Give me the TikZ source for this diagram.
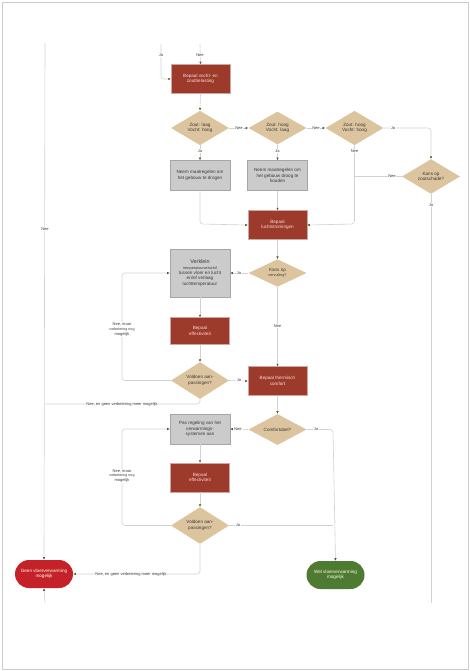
\documentclass[tikz,border=0pt]{standalone}
\usepackage{fontspec}
\setmainfont{Liberation Sans}
\usetikzlibrary{shapes.geometric,arrows.meta}
\definecolor{boxred}{HTML}{9C3A2C}
\definecolor{grayfill}{HTML}{CBCBCB}
\definecolor{tanc}{HTML}{DCC59E}
\definecolor{termred}{HTML}{C42129}
\definecolor{termgreen}{HTML}{4E7A32}
\definecolor{linec}{HTML}{D2D2D2}
\definecolor{arrc}{HTML}{4B5A2A}
\definecolor{txt}{HTML}{3A3A3A}
\begin{document}
\begin{tikzpicture}[x=1pt,y=-1pt,
  font=\fontsize{4.6}{5.4}\selectfont,
  redbox/.style={rectangle, fill=boxred, draw=white!55!boxred, line width=0.3pt, text=white!85!red, minimum width=59pt, minimum height=29pt, inner sep=1pt, align=center},
  graybox/.style={rectangle, fill=grayfill, draw=gray!70, line width=0.4pt, text=txt, minimum width=60pt, minimum height=30pt, inner sep=1pt, align=center},
  dia/.style={diamond, fill=tanc, draw=none, text=txt, minimum width=58pt, minimum height=27pt, inner sep=0pt, align=center},
  term/.style={rectangle, rounded corners=14pt, minimum width=58pt, minimum height=28pt, inner sep=1pt, align=center, text=white!90!yellow},
  conn/.style={draw=linec, line width=0.6pt, rounded corners=3pt},
  arr/.style={conn, -{Latex[length=2.6pt,width=2.4pt,color=arrc]}},
  lbl/.style={fill=white, inner sep=0.6pt, text=txt, font=\fontsize{4}{4.8}\selectfont, align=center}
]
\useasboundingbox (0,0) rectangle (470,671);
\fill[white] (0,0) rectangle (470,671);
\draw[gray!40, line width=0.8pt] (2,2) rectangle (468,669);

% nodes
\node[redbox] (b1) at (200.5,79) {Bepaal vocht- en\\zoutbelasting};
\node[dia] (d1) at (200,128) {Zout: laag\\Vocht: hoog};
\node[dia] (d2) at (277.5,128) {Zout: hoog\\Vocht: laag};
\node[dia] (d3) at (354.5,128) {Zout: hoog\\Vocht: hoog};
\node[dia] (d4) at (431,176.5) {Kans op\\zoutschade?};
\node[graybox] (g1) at (200,175.5) {Neem maatregelen om\\het gebouw te drogen};
\node[graybox] (g2) at (277.5,175.5) {Neem maatregelen om\\het gebouw droog te\\houden};
\node[redbox] (b2) at (277.5,225) {Bepaal\\luchtstromingen};
\node[dia] (d5) at (277.5,273) {Kans op\\{\fontsize{3.8}{4.6}\selectfont vervuiling?}};
\node[graybox, minimum height=48pt] (g3) at (200,273) {{\fontsize{5.4}{6}\selectfont Verklein}\\{\fontsize{3.8}{4.6}\selectfont temperatuurverschil}\\tussen vloer en lucht\\en/of verlaag\\luchttemperatuur};
\node[redbox, minimum height=27pt] (b3) at (200,331) {Bepaal\\effectiviteit};
\node[dia] (d6) at (200,380.5) {Voldoen aan-\\passingen?};
\node[redbox] (b4) at (277.5,381) {Bepaal thermisch\\comfort};
\node[dia, minimum height=29pt] (d7) at (277.5,429.5) {Comfortabel?};
\node[graybox] (g4) at (200,429) {Pas regeling van het\\verwarmings-\\systemen aan};
\node[redbox] (b5) at (200,477.5) {Bepaal\\effectiviteit};
\node[dia, minimum height=29pt] (d8) at (200,525.5) {Voldoen aan-\\passingen?};
\node[term, fill=termred] (t1) at (44,574) {Geen vloerverwarming\\mogelijk};
\node[term, fill=termgreen] (t2) at (335.5,575) {Wel vloerverwarming\\mogelijk};

% free ends
\coordinate (topJa) at (161,44);
\coordinate (topNee) at (200,44);
\coordinate (leftTop) at (45,43);
\coordinate (leftBot) at (45,603);
\coordinate (rightBot) at (431,603);

% connectors
\draw[arr] (topJa) -- (161,79) -- (b1.west);
\draw[arr] (topNee) -- (b1.north);
\draw[arr] (b1.south) -- (d1.north);
\draw[arr] (d1.east) -- (d2.west);
\draw[arr] (d2.east) -- (d3.west);
\draw[arr] (d3.east) -- (431,128) -- (d4.north);
\draw[arr] (d1.south) -- (g1.north);
\draw[arr] (d2.south) -- (g2.north);
\draw[arr] (d3.south) -- (354.5,224) -- (b2.east);
\draw[conn] (d4.west) -- (354.5,176.5);
\draw[conn] (d4.south) -- (rightBot);
\draw[arr] (g1.south) -- (200,224) -- (b2.west);
\draw[arr] (g2.south) -- (b2.north);
\draw[arr] (b2.south) -- (d5.north);
\draw[arr] (d5.west) -- (g3.east);
\draw[arr] (d5.south) -- (b4.north);
\draw[arr] (g3.south) -- (b3.north);
\draw[arr] (b3.south) -- (d6.north);
\draw[arr] (d6.east) -- (b4.west);
\draw[arr] (d6.west) -- (122,380.5) -- (122,273) -- (g3.west);
\draw[conn] (d6.south) -- (200,404) -- (45,404);
\draw[arr] (leftTop) -- (t1.north);
\draw[arr] (leftBot) -- (t1.south);
\draw[arr] (b4.south) -- (d7.north);
\draw[arr] (d7.west) -- (g4.east);
\draw[arr] (d7.east) -- (333,429.5) -- (t2.north);
\draw[arr] (g4.south) -- (b5.north);
\draw[arr] (b5.south) -- (d8.north);
\draw[conn] (d8.east) -- (333,525.5);
\draw[arr] (d8.west) -- (122,525.5) -- (122,429) -- (g4.west);
\draw[arr] (d8.south) -- (200,574) -- (t1.east);

% labels
\node[lbl] (lJa0) at (161,55) {Ja};
\node[lbl] (lNee0) at (200,55) {Nee};
\node[lbl] (lNee1) at (239,128) {Nee};
\node[lbl] (lNee2) at (316,128) {Nee};
\node[lbl] (lJa3) at (393,128) {Ja};
\node[lbl] (lJa1) at (200,151) {Ja};
\node[lbl] (lJa2) at (277.5,151) {Ja};
\node[lbl] (lNee3) at (354.5,151) {Nee};
\node[lbl] (lNee4) at (392,176.5) {Nee};
\node[lbl] (lJa4) at (431,205) {Ja};
\node[lbl] (lJa5) at (239,273) {Ja};
\node[lbl] (lNee5) at (277.5,326) {Nee};
\node[lbl] (lJa6) at (239,380.5) {Ja};
\node[lbl] (lNm1) at (122,329.5) {Nee, maar\\{\fontsize{3.6}{4.4}\selectfont verbetering nog}\\mogelijk};
\node[lbl] (lNg1) at (122,404) {Nee, en geen verbetering meer mogelijk};
\node[lbl] (lNeeL) at (45,229) {Nee};
\node[lbl] (lNee7) at (238,429.5) {Nee};
\node[lbl] (lJa7) at (316,429.5) {Ja};
\node[lbl] (lNm2) at (122,476) {Nee, maar\\{\fontsize{3.6}{4.4}\selectfont verbetering nog}\\mogelijk};
\node[lbl] (lJa8) at (238,525.5) {Ja};
\node[lbl] (lNg2) at (131,574) {Nee, en geen verbetering meer mogelijk};
\end{tikzpicture}
\end{document}
